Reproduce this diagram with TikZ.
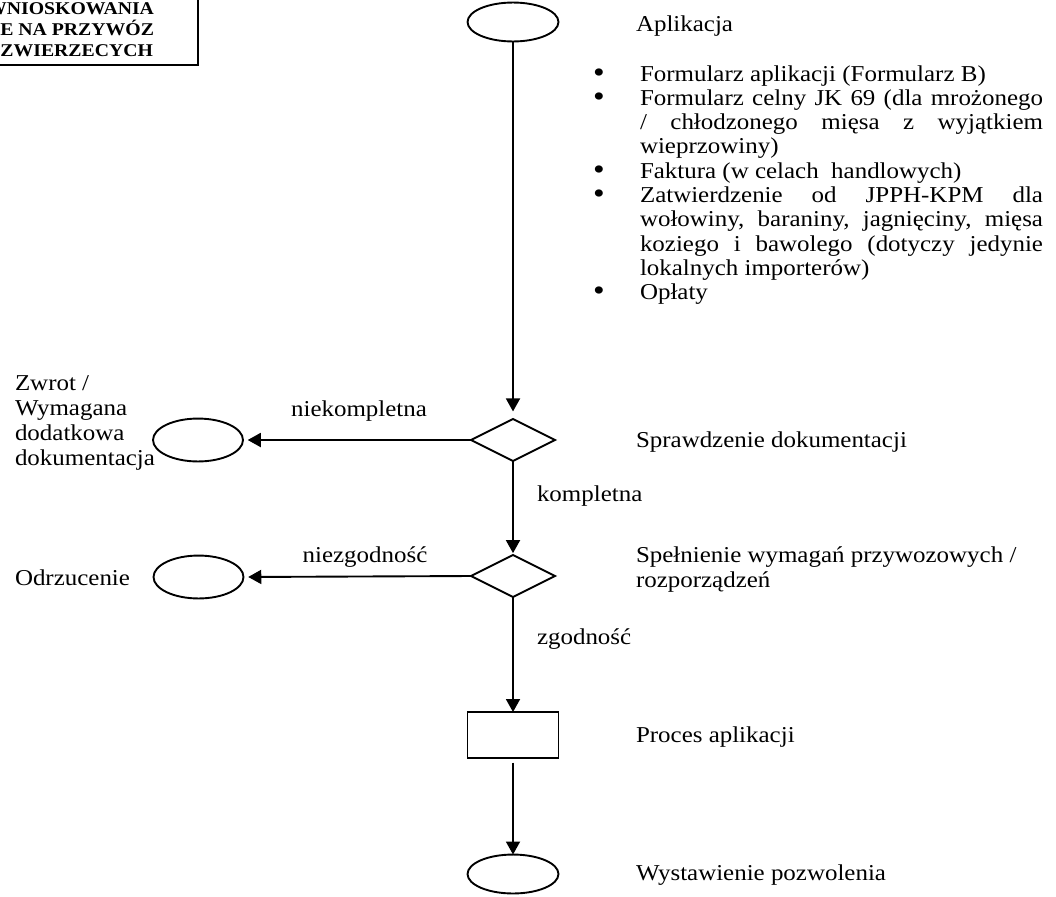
\documentclass[tikz,border=0pt]{standalone}
\usepackage{fontspec}
\setmainfont{Liberation Serif}[FakeStretch=1.1]
\usetikzlibrary{shapes.geometric,arrows.meta}
\begin{document}
\begin{tikzpicture}[x=0.529pt,y=-0.529pt,
  every node/.style={inner sep=0pt, outer sep=0pt},
  txt/.style={anchor=base west, font=\fontsize{12}{13}\selectfont},
  lbl/.style={anchor=base, font=\fontsize{12}{13}\selectfont},
  hdr/.style={anchor=base east, font=\fontsize{9.5}{10.5}\selectfont\bfseries},
  bul/.style={anchor=base, font=\fontsize{16}{16}\selectfont},
  term/.style={draw, line width=1pt, ellipse, minimum width=48.1pt, minimum height=20.6pt},
  term2/.style={draw, line width=1pt, ellipse, minimum width=47.6pt, minimum height=22.7pt},
  dec/.style={draw, line width=1pt, diamond, minimum width=44.4pt, minimum height=22.2pt},
  proc/.style={draw, line width=1pt, rectangle, minimum width=48.1pt, minimum height=24.3pt},
  arr/.style={line width=1pt, -{Triangle[length=6.9pt,width=7.4pt]}},
  ]
\useasboundingbox (0,0) rectangle (1056,896);
\clip (0,0) rectangle (1056,896);

% title box (cut by the page edge)
\draw[line width=1.1pt] (-300,-100) rectangle (198,65);
\node[hdr] (h1) at (154,14) {WNIOSKOWANIA};
\node[hdr] (h2) at (154,35) {E NA PRZYWÓZ};
\node[hdr] (h3) at (153,56) {ZWIERZECYCH};

% flow nodes
\node[term] (A) at (513,22) {};
\node[dec] (D1) at (513,440) {};
\node[term2] (E1) at (198,440) {};
\node[dec] (D2) at (513,576) {};
\node[term2] (E2) at (198.5,577) {};
\node[proc] (R) at (513,735) {};
\node[term] (F) at (513,874) {};

% connectors
\draw[arr, shorten >=4pt] (A.south) -- (D1.north);
\draw[arr, shorten >=2.5pt] (D1.west) -- (E1.east);
\draw[arr, shorten >=1pt] (D1.south) -- (D2.north);
\draw[arr, shorten >=2.5pt] (D2.west) -- (E2.east);
\draw[arr] (D2.south) -- (R.north);
\draw[arr, shorten <=2.5pt] (R.south) -- (F.north);

% connector labels
\node[lbl] (l1) at (359,416) {niekompletna};
\node[txt] (l2) at (537,501) {kompletna};
\node[lbl] (l3) at (365,562) {niezgodność};
\node[txt] (l4) at (537,644) {zgodność};

% left texts
\node[txt] (z1) at (15,390) {Zwrot /};
\node[txt] (z2) at (15,415) {Wymagana};
\node[txt] (z3) at (15,440) {dodatkowa};
\node[txt] (z4) at (15,465) {dokumentacja};
\node[txt] (o1) at (15,585) {Odrzucenie};

% right texts
\node[txt] (t1) at (636,31) {Aplikacja};
\node[txt] (t2) at (636,447) {Sprawdzenie dokumentacji};
\node[txt] (t3) at (636,562) {Spełnienie wymagań przywozowych /};
\node[txt] (t4) at (636,587) {rozporządzeń};
\node[txt] (t5) at (636,742) {Proces aplikacji};
\node[txt] (t6) at (636,880) {Wystawienie pozwolenia};

% bullet list
\node[bul] (b1) at (599,82) {•};
\node[bul] (b2) at (599,106.3) {•};
\node[bul] (b3) at (599,179.2) {•};
\node[bul] (b4) at (599,203.5) {•};
\node[bul] (b5) at (599,300.7) {•};
\node[txt] (s1) at (640,81) {Formularz aplikacji (Formularz B)};
\node[txt] (s2) at (640,105.3) {\makebox[213.2pt][s]{Formularz celny JK 69 (dla mrożonego}};
\node[txt] (s3) at (640,129.6) {\makebox[213.2pt][s]{/ chłodzonego mięsa z wyjątkiem}};
\node[txt] (s4) at (640,153.9) {wieprzowiny)};
\node[txt] (s5) at (640,178.2) {Faktura (w celach\ \ handlowych)};
\node[txt] (s6) at (640,202.5) {\makebox[213.2pt][s]{Zatwierdzenie od JPPH-KPM dla}};
\node[txt] (s7) at (640,226.8) {\makebox[213.2pt][s]{wołowiny, baraniny, jagnięciny, mięsa}};
\node[txt] (s8) at (640,251.1) {\makebox[213.2pt][s]{koziego i bawolego (dotyczy jedynie}};
\node[txt] (s9) at (640,275.4) {lokalnych importerów)};
\node[txt] (s10) at (640,299.7) {Opłaty};
\end{tikzpicture}
\end{document}
